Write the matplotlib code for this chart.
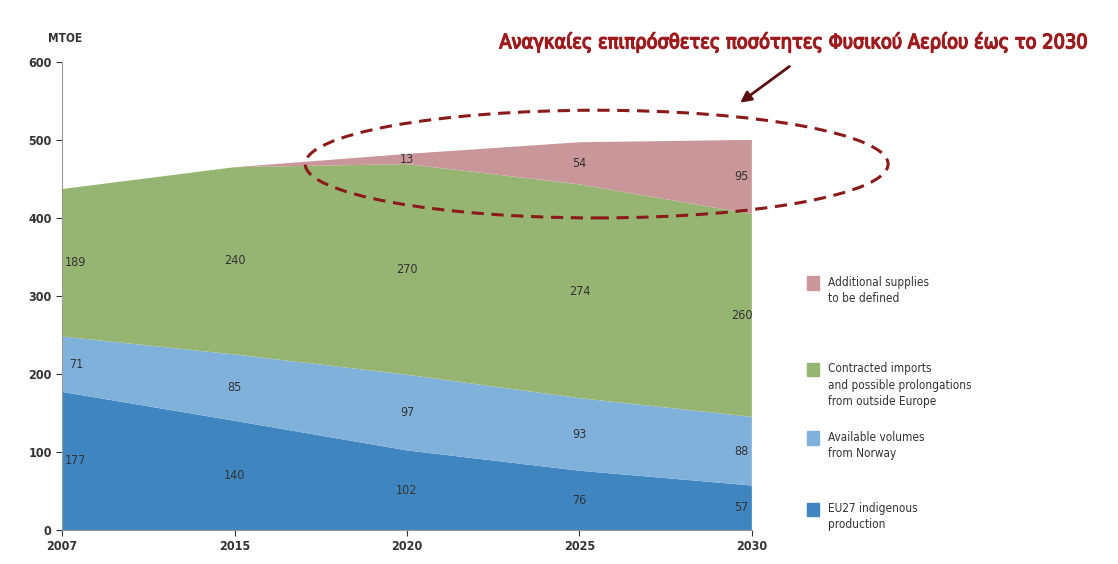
import numpy as np
import matplotlib.pyplot as plt
import matplotlib.patheffects as pe
from matplotlib.patches import Ellipse

years = ['2007', '2015', '2020', '2025', '2030']
indigenous = [177, 140, 102, 76, 57]
norway = [71, 85, 97, 93, 88]
contracted = [189, 240, 270, 274, 260]
additional = [0, 0, 13, 54, 95]

series = [indigenous, norway, contracted, additional]
names = ['EU27 indigenous\nproduction',
         'Available volumes\nfrom Norway',
         'Contracted imports\nand possible prolongations\nfrom outside Europe',
         'Additional supplies\nto be defined']
colors = ['#3f86c1', '#80b1da', '#97b572', '#c99799']

plt.rcParams['font.family'] = ['DejaVu Sans']
plt.rcParams['font.stretch'] = 'condensed'

fig = plt.figure(figsize=(11.18, 5.64), dpi=100)
ax = fig.add_axes([0.0555, 0.0603, 0.617, 0.830])

x = np.arange(len(years))
ax.stackplot(x, *series, colors=colors, linewidth=0)

# value labels in the middle of each band
offs = [0.08, 0, 0, 0, -0.06]
base = np.zeros(len(years))
for s in series:
    s = np.array(s, dtype=float)
    for i in range(len(years)):
        if s[i] > 0:
            ax.text(x[i] + offs[i], base[i] + s[i] / 2, str(int(s[i])),
                    ha='center', va='center', fontsize=9, color='#333333')
    base += s

ax.set_xlim(0, 4)
ax.set_ylim(0, 600)
ax.set_xticks(x)
ax.set_xticklabels(years, fontsize=9, fontweight='bold', color='#333333')
ax.set_yticks(range(0, 601, 100))
ax.tick_params(axis='y', labelsize=9, colors='#333333', length=4)
ax.tick_params(axis='x', length=4, colors='#333333')
for lbl in ax.get_yticklabels():
    lbl.set_fontweight('bold')
for sp in ['top', 'right']:
    ax.spines[sp].set_visible(False)
ax.spines['left'].set_color('#999999')
ax.spines['bottom'].set_color('#999999')
ax.text(0.005, 1.035, 'MTOE', transform=ax.transAxes, ha='center', va='bottom',
        fontsize=8.5, fontweight='bold', color='#333333')

# legend drawn by hand on the right
leg_pos = [(0.498, names[3], colors[3]), (0.345, names[2], colors[2]),
           (0.223, names[1], colors[1]), (0.097, names[0], colors[0])]
for ly, n, c in leg_pos:
    fig.patches.append(plt.Rectangle((0.722, ly - 0.012), 0.011, 0.024,
                                     transform=fig.transFigure, color=c))
    fig.text(0.741, ly + 0.013, n, ha='left', va='top', fontsize=8.5,
             color='#333333', linespacing=1.35)

# highlight
ell = Ellipse((3.1, 469), 3.38, 138, fill=False, edgecolor='#8b1a1a',
              linestyle=(0, (4, 2.5)), linewidth=2.2, clip_on=False)
ax.add_patch(ell)
fig.text(0.972, 0.925, 'Αναγκαίες επιπρόσθετες ποσότητες Φυσικού Αερίου έως το 2030',
         ha='right', va='center', fontsize=14.3, color='#9b1b1f',
         path_effects=[pe.withStroke(linewidth=1.0, foreground='#9b1b1f')])
ax.annotate('', xy=(0.66, 0.815), xycoords='figure fraction',
            xytext=(0.708, 0.885), textcoords='figure fraction',
            arrowprops=dict(arrowstyle='-|>', color='#5a1010', lw=2,
                            mutation_scale=16))

fig.savefig('out.png', dpi=100)
